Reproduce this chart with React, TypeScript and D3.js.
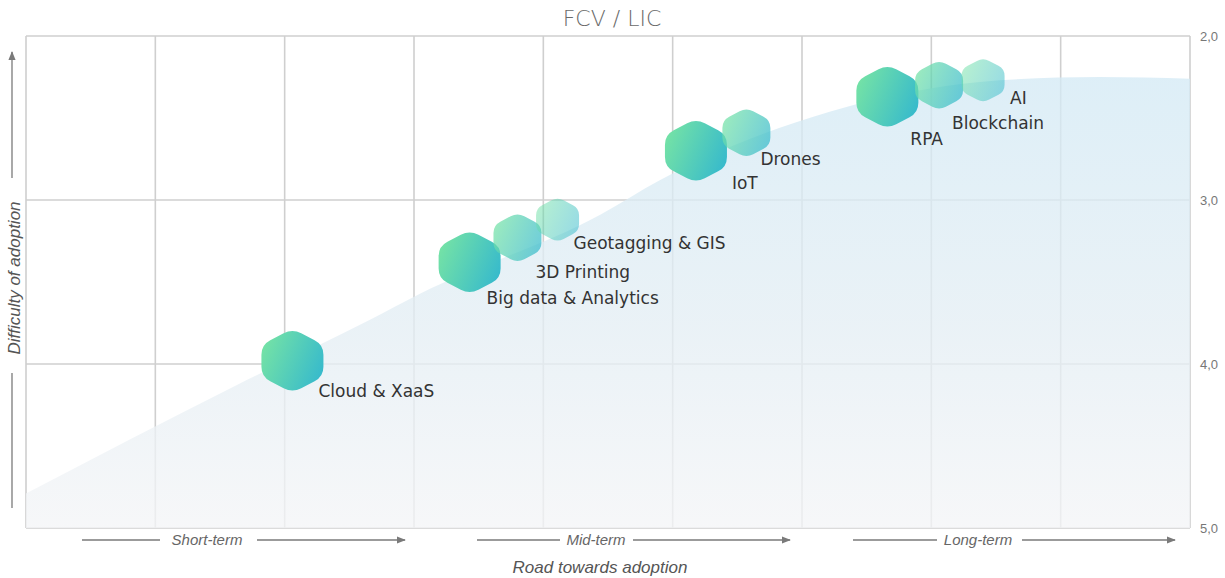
import React from "react";
import * as d3 from "d3";

const W = 1225;
const H = 578;

// Technologies: x = road towards adoption (0..9 columns), y = difficulty (2..5)
const techNames = ["Cloud & XaaS", "Big data & Analytics", "3D Printing", "Geotagging & GIS", "IoT", "Drones", "RPA", "Blockchain", "AI"];
const techX = [2.06, 3.43, 3.8, 4.11, 5.18, 5.57, 6.66, 7.06, 7.4];
const techY = [3.98, 3.38, 3.23, 3.12, 2.7, 2.59, 2.37, 2.3, 2.27];
const techTier = [0, 0, 1, 2, 0, 1, 0, 1, 2]; // 0 large, 1 medium, 2 small

// Adoption curve (background area)
const curveX = [0, 1.65, 2.66, 3.05, 4.44, 4.9, 6.22, 6.99, 7.53, 8.3, 9];
const curveY = [4.79, 4.12, 3.73, 3.57, 3.09, 2.88, 2.46, 2.32, 2.27, 2.25, 2.26];

const yTicks = [2, 3, 4, 5];
const xColumns = d3.range(0, 10);
const horizonLabels = ["Short-term", "Mid-term", "Long-term"];

// layout
const plot = { left: 26, right: 1190, top: 36, bottom: 528 };
const tierSize = [{ w: 62, h: 64, op: 1 }, { w: 48, h: 50, op: 0.72 }, { w: 43, h: 45, op: 0.52 }];
const labelOffsets: [number, number][] = [
  [26, 36], [17, 42], [18, 40], [16, 29], [36, 38], [14, 32], [23, 48], [13, 44], [27, 24],
];
const horizonLayout = [
  { l1: [82, 160], t: 207, l2: [257, 405] },
  { l1: [477, 560], t: 596, l2: [633, 790] },
  { l1: [853, 937], t: 978, l2: [1022, 1175] },
];

function hexPath(cx: number, cy: number, w: number, h: number, r: number) {
  const rx = w / 2, ry = h / 2;
  const pts: [number, number][] = [
    [cx, cy - ry], [cx + rx, cy - ry / 2], [cx + rx, cy + ry / 2],
    [cx, cy + ry], [cx - rx, cy + ry / 2], [cx - rx, cy - ry / 2],
  ];
  const n = pts.length;
  let d = "";
  for (let i = 0; i < n; i++) {
    const p = pts[i];
    const prev = pts[(i - 1 + n) % n];
    const next = pts[(i + 1) % n];
    const v1 = [prev[0] - p[0], prev[1] - p[1]];
    const v2 = [next[0] - p[0], next[1] - p[1]];
    const l1 = Math.hypot(v1[0], v1[1]);
    const l2 = Math.hypot(v2[0], v2[1]);
    const a = [p[0] + (v1[0] / l1) * r, p[1] + (v1[1] / l1) * r];
    const b = [p[0] + (v2[0] / l2) * r, p[1] + (v2[1] / l2) * r];
    d += (i === 0 ? "M" : "L") + a[0] + "," + a[1] + "Q" + p[0] + "," + p[1] + " " + b[0] + "," + b[1];
  }
  return d + "Z";
}

export default function App() {
  const x = d3.scaleLinear().domain([0, 9]).range([plot.left, plot.right]);
  const y = d3.scaleLinear().domain([2, 5]).range([plot.top, plot.bottom]);
  const fmt = d3.formatLocale({ decimal: ",", thousands: ".", grouping: [3], currency: ["", "€"] }).format(".1f");

  const pts: [number, number][] = curveX.map((v, i) => [v, curveY[i]]);
  const area = d3
    .area<[number, number]>()
    .x((d) => x(d[0]))
    .y0(plot.bottom)
    .y1((d) => y(d[1]))
    .curve(d3.curveMonotoneX)(pts) as string;

  const gridColor = "#cfcfcf";
  const labelFont = "'DejaVu Sans', sans-serif";
  const axisFont = "'Liberation Sans', Arial, sans-serif";

  return (
    <svg width={W} height={H} style={{ position: "absolute", left: 0, top: 0, background: "#fff" }}>
      <defs>
        <linearGradient id="areaGrad" x1="0" y1="0" x2="0" y2="1">
          <stop offset="0%" stopColor="#d4eaf5" />
          <stop offset="55%" stopColor="#e4eef4" />
          <stop offset="100%" stopColor="#f4f5f7" />
        </linearGradient>
        <linearGradient id="hexGrad" x1="0" y1="0.3" x2="1" y2="0.7">
          <stop offset="0%" stopColor="#74e2a6" />
          <stop offset="100%" stopColor="#37bacc" />
        </linearGradient>
        <marker id="arr" viewBox="0 0 10 10" refX="9" refY="5" markerWidth="7" markerHeight="7" orient="auto">
          <path d="M0,1 L10,5 L0,9 Z" fill="#7a7a7a" />
        </marker>
      </defs>

      {/* title */}
      <text x={612} y={26} textAnchor="middle" fontFamily={labelFont} fontSize={22} fill="#6a6a6a" fontWeight={300}>
        FCV / LIC
      </text>

      {/* grid */}
      <rect x={plot.left} y={plot.top} width={plot.right - plot.left} height={plot.bottom - plot.top} fill="#fff" />
      {xColumns.map((c) => (
        <line key={"v" + c} x1={x(c)} x2={x(c)} y1={plot.top} y2={plot.bottom} stroke={gridColor} strokeWidth={1.6} />
      ))}
      {yTicks.map((t) => (
        <line key={"h" + t} x1={plot.left} x2={plot.right} y1={y(t)} y2={y(t)} stroke={gridColor} strokeWidth={1.6} />
      ))}

      {/* adoption area */}
      <path d={area} fill="url(#areaGrad)" fillOpacity={0.78} />

      {/* right axis ticks */}
      {yTicks.map((t) => (
        <text key={"t" + t} x={1200} y={y(t) + 5} fontFamily={axisFont} fontSize={13} fill="#777">
          {fmt(t)}
        </text>
      ))}

      {/* hexagons */}
      {techNames.map((n, i) => {
        const s = tierSize[techTier[i]];
        return (
          <path key={"hx" + n} d={hexPath(x(techX[i]), y(techY[i]), s.w, s.h, s.w * 0.16)} fill="url(#hexGrad)" fillOpacity={s.op} />
        );
      })}
      {techNames.map((n, i) => (
        <text
          key={"lb" + n}
          x={x(techX[i]) + labelOffsets[i][0]}
          y={y(techY[i]) + labelOffsets[i][1]}
          fontFamily={labelFont}
          fontSize={17}
          fill="#333"
        >
          {n}
        </text>
      ))}

      {/* left axis */}
      <line x1={12} x2={12} y1={178} y2={52} stroke="#7a7a7a" strokeWidth={1.3} markerEnd="url(#arr)" />
      <line x1={12} x2={12} y1={373} y2={508} stroke="#7a7a7a" strokeWidth={1.3} />
      <text
        transform={`translate(20,278) rotate(-90)`}
        textAnchor="middle"
        fontFamily={axisFont}
        fontStyle="italic"
        fontSize={17}
        fill="#555"
      >
        Difficulty of adoption
      </text>

      {/* bottom axis */}
      {horizonLabels.map((l, i) => {
        const L = horizonLayout[i];
        return (
          <g key={l}>
            <line x1={L.l1[0]} x2={L.l1[1]} y1={540} y2={540} stroke="#7a7a7a" strokeWidth={1.3} />
            <line x1={L.l2[0]} x2={L.l2[1]} y1={540} y2={540} stroke="#7a7a7a" strokeWidth={1.3} markerEnd="url(#arr)" />
            <text x={L.t} y={545} textAnchor="middle" fontFamily={axisFont} fontStyle="italic" fontSize={15} fill="#666">
              {l}
            </text>
          </g>
        );
      })}
      <text x={600} y={573} textAnchor="middle" fontFamily={axisFont} fontStyle="italic" fontSize={17} fill="#555">
        Road towards adoption
      </text>
    </svg>
  );
}
